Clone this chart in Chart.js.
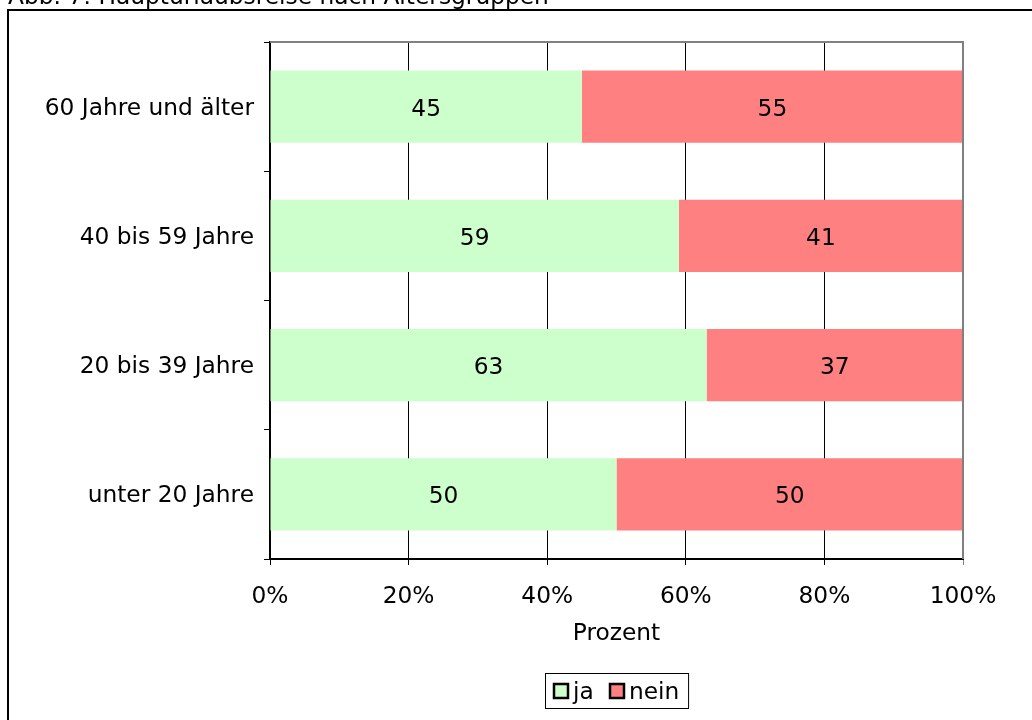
<!DOCTYPE html>
<html lang="de">
<head>
<meta charset="utf-8">
<title>Haupturlaubsreise nach Altersgruppen</title>
<script src="https://cdn.jsdelivr.net/npm/chart.js@4/dist/chart.umd.min.js"></script>
<style>
  html, body { margin: 0; padding: 0; background: #ffffff; }
  #wrap { position: relative; width: 1032px; height: 720px; overflow: hidden; }
  canvas { display: block; }
</style>
</head>
<body>
<div id="wrap"><canvas id="chart" width="1032" height="720"></canvas></div>
<script>
// Altersgruppen, top to bottom
const categories = ['60 Jahre und älter', '40 bis 59 Jahre', '20 bis 39 Jahre', 'unter 20 Jahre'];
// Share of respondents (percent)
const jaValues = [45, 59, 63, 50];
const neinValues = [55, 41, 37, 50];
const seriesNames = ['ja', 'nein'];
const xTickValues = [0, 20, 40, 60, 80, 100];
const titleText = 'Abb. 7: Haupturlaubsreise nach Altersgruppen';
const axisTitle = 'Prozent';

const FONT = '"DejaVu Sans", Verdana, sans-serif';
const FS = 23.3;
const GREEN = '#CCFFCC';
const RED = '#FF8080';

// Outer frame and (cropped) caption above it
const framePlugin = {
  id: 'frame',
  beforeDraw(chart) {
    const ctx = chart.ctx;
    ctx.save();
    ctx.fillStyle = '#ffffff';
    ctx.fillRect(0, 0, chart.width, chart.height);
    ctx.fillStyle = '#000000';
    ctx.font = FS + 'px ' + FONT;
    ctx.textBaseline = 'alphabetic';
    ctx.textAlign = 'left';
    ctx.fillText(titleText, 8, 4);
    ctx.strokeStyle = '#000000';
    ctx.lineWidth = 2;
    ctx.beginPath();
    ctx.moveTo(8, chart.height + 5);
    ctx.lineTo(8, 10);
    ctx.lineTo(chart.width + 5, 10);
    ctx.stroke();
    ctx.restore();
  },
  afterDraw(chart) {
    // grey top and right edges of the plot area
    const a = chart.chartArea;
    const ctx = chart.ctx;
    ctx.save();
    ctx.strokeStyle = '#808080';
    ctx.lineWidth = 2;
    ctx.beginPath();
    ctx.moveTo(a.left, a.top);
    ctx.lineTo(a.right, a.top);
    ctx.lineTo(a.right, a.bottom);
    ctx.stroke();
    ctx.restore();
  }
};

// Value labels centred in each bar segment
const valueLabels = {
  id: 'valueLabels',
  afterDatasetsDraw(chart) {
    const ctx = chart.ctx;
    ctx.save();
    ctx.font = FS + 'px ' + FONT;
    ctx.fillStyle = '#000000';
    ctx.textAlign = 'center';
    ctx.textBaseline = 'middle';
    chart.data.datasets.forEach((ds, di) => {
      chart.getDatasetMeta(di).data.forEach((bar, i) => {
        const p = bar.getProps(['x', 'y', 'base'], true);
        ctx.fillText(String(ds.data[i]), (p.x + p.base) / 2, p.y + 3);
      });
    });
    ctx.restore();
  }
};

// Boxed legend below the axis title
const boxLegend = {
  id: 'boxLegend',
  afterDraw(chart) {
    const ctx = chart.ctx;
    ctx.save();
    ctx.font = FS + 'px ' + FONT;
    ctx.textBaseline = 'middle';
    ctx.textAlign = 'left';
    const sw = 14, gap = 5, itemGap = 16, padL = 8, padR = 10;
    const widths = chart.data.datasets.map(ds => sw + gap + ctx.measureText(ds.label).width);
    const total = widths.reduce((s, w) => s + w, 0) + itemGap * (widths.length - 1) + padL + padR;
    const a = chart.chartArea;
    const cx = (a.left + a.right) / 2;
    const boxX = Math.round(cx - total / 2) + 0.5, boxY = 673.5, boxH = 35;
    ctx.fillStyle = '#ffffff';
    ctx.fillRect(boxX, boxY, total, boxH);
    ctx.strokeStyle = '#000000';
    ctx.lineWidth = 1;
    ctx.strokeRect(boxX, boxY, total, boxH);
    let x = Math.round(boxX + padL);
    const cy = boxY + boxH / 2;
    chart.data.datasets.forEach((ds, i) => {
      const top = Math.round(cy - sw / 2);
      ctx.fillStyle = ds.backgroundColor;
      ctx.fillRect(x, top, sw, sw);
      ctx.lineWidth = 2.5;
      ctx.strokeRect(x, top, sw, sw);
      ctx.fillStyle = '#000000';
      ctx.fillText(ds.label, x + sw + gap, cy + 2);
      x += Math.round(widths[i] + itemGap);
    });
    ctx.restore();
  }
};

new Chart(document.getElementById('chart'), {
  type: 'bar',
  data: {
    labels: categories,
    datasets: [
      { label: seriesNames[0], data: jaValues, backgroundColor: GREEN, borderWidth: 0 },
      { label: seriesNames[1], data: neinValues, backgroundColor: RED, borderWidth: 0 }
    ]
  },
  options: {
    indexAxis: 'y',
    responsive: false,
    animation: false,
    devicePixelRatio: 1,
    layout: { padding: { top: 42, right: 69, bottom: 0, left: 0 } },
    datasets: { bar: { categoryPercentage: 0.56, barPercentage: 1.0 } },
    plugins: {
      legend: { display: false },
      tooltip: { enabled: false },
      title: { display: false }
    },
    scales: {
      x: {
        stacked: true,
        min: 0,
        max: 100,
        afterBuildTicks(scale) { scale.ticks = xTickValues.map(v => ({ value: v })); },
        afterFit(scale) { scale.height = 161; },
        ticks: {
          color: '#000000',
          font: { family: FONT, size: FS },
          padding: 18,
          callback: v => v + '%'
        },
        grid: {
          color: ctx => (ctx.tick && ctx.tick.value === 100) ? '#808080' : '#000000',
          lineWidth: 1,
          drawTicks: true,
          tickLength: 6
        },
        border: { display: true, color: '#000000', width: 2 },
        title: {
          display: true,
          text: axisTitle,
          color: '#000000',
          font: { family: FONT, size: FS },
          padding: { top: 6, bottom: 72 }
        }
      },
      y: {
        stacked: true,
        afterFit(scale) { scale.width = 270; },
        ticks: {
          color: '#000000',
          font: { family: FONT, size: FS },
          padding: 10,
          labelOffset: 2
        },
        grid: {
          drawOnChartArea: false,
          drawTicks: true,
          tickLength: 6,
          color: '#000000',
          lineWidth: 1
        },
        border: { display: true, color: '#000000', width: 2 }
      }
    }
  },
  plugins: [framePlugin, valueLabels, boxLegend]
});
</script>
</body>
</html>
